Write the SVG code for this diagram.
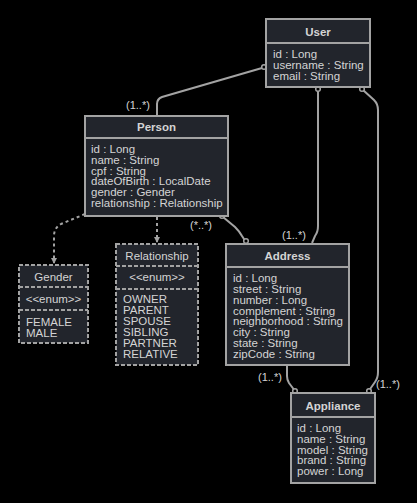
<svg xmlns="http://www.w3.org/2000/svg" width="417" height="503" viewBox="0 0 417 503">
<style>
.bg{fill:#000}
.box{fill:#22252c;stroke:#a3a3a3;stroke-width:2}
.ebox{fill:#22252c;stroke:#a3a3a3;stroke-width:2;stroke-dasharray:4 2}
.div{stroke:#a3a3a3;stroke-width:2}
.ediv{stroke:#a3a3a3;stroke-width:2;stroke-dasharray:4 2}
text{font-family:"Liberation Sans",Arial,sans-serif;font-size:11.5px;fill:#d4d4d4}
.h{font-weight:bold;text-anchor:middle}
.c{text-anchor:middle}
.lbl{font-size:11px}
.ln{fill:none;stroke:#a3a3a3;stroke-width:2}
.dl{fill:none;stroke:#a3a3a3;stroke-width:2;stroke-dasharray:3 3}
.end{fill:#000;stroke:#a3a3a3;stroke-width:1.5}
</style>
<defs>
<marker id="arr" markerWidth="6" markerHeight="6" refX="5" refY="3" orient="auto" markerUnits="userSpaceOnUse">
<path d="M0,0 L6,3 L0,6 z" fill="#a3a3a3"/>
</marker>
</defs>
<rect class="bg" x="0" y="0" width="417" height="503"/>

<g id="connectors">
<path class="ln" d="M157,116 L157,104 Q157,99 162,97 L262,68"/>
<circle class="end" cx="264" cy="67" r="2.3"/>
<text class="lbl" x="126" y="109">(1..*)</text>

<path class="ln" d="M318,90 L318,226 Q318,232 315,236 L312,243"/>
<circle class="end" cx="318" cy="89" r="2.3"/>
<text class="lbl" x="282" y="239">(1..*)</text>

<path class="ln" d="M363,90 L374,100 Q378,104 378,110 L378,372 Q378,378 375,382 L368,392"/>
<circle class="end" cx="362" cy="89" r="2.3"/>
<circle class="end" cx="369" cy="391" r="2.3"/>
<text class="lbl" x="376" y="388">(1..*)</text>

<path class="ln" d="M223,217 L235,227 Q240,232 242,236 L246,242"/>
<circle class="end" cx="222" cy="216" r="2.3"/>
<circle class="end" cx="246" cy="241" r="2.3"/>
<text class="lbl" x="190" y="229">(*..*)</text>

<path class="ln" d="M287,366 L287,376 Q287,380 289,383 L295,391"/>
<circle class="end" cx="295" cy="391" r="2.3"/>
<text class="lbl" x="258" y="381">(1..*)</text>

<path class="dl" d="M85,214 L61,224 Q54,228 54,236 L54,263" marker-end="url(#arr)"/>
<path class="dl" d="M157,217 L157,242" marker-end="url(#arr)"/>
</g>

<g id="User">
<rect class="box" x="266" y="19" width="104" height="68"/>
<line class="div" x1="266" y1="43" x2="370" y2="43"/>
<text class="h" x="318" y="36">User</text>
<text x="273" y="58">id : Long</text>
<text x="273" y="69">username : String</text>
<text x="273" y="80">email : String</text>
</g>

<g id="Person">
<rect class="box" x="85" y="116" width="143" height="100"/>
<line class="div" x1="85" y1="138" x2="228" y2="138"/>
<text class="h" x="156.5" y="131">Person</text>
<text x="91" y="153">id : Long</text>
<text x="91" y="163.8">name : String</text>
<text x="91" y="174.6">cpf : String</text>
<text x="91" y="185.4">dateOfBirth : LocalDate</text>
<text x="91" y="196.2">gender : Gender</text>
<text x="91" y="207">relationship : Relationship</text>
</g>

<g id="Gender">
<rect class="ebox" x="19" y="265" width="69" height="78"/>
<line class="ediv" x1="19" y1="287" x2="88" y2="287"/>
<line class="ediv" x1="19" y1="310" x2="88" y2="310"/>
<text class="c" x="53.5" y="281">Gender</text>
<text class="c" x="53.5" y="303">&lt;&lt;enum&gt;&gt;</text>
<text x="26" y="326">FEMALE</text>
<text x="26" y="336.8">MALE</text>
</g>

<g id="Relationship">
<rect class="ebox" x="116" y="244" width="82" height="121"/>
<line class="ediv" x1="116" y1="266" x2="198" y2="266"/>
<line class="ediv" x1="116" y1="289" x2="198" y2="289"/>
<text class="c" x="157" y="260">Relationship</text>
<text class="c" x="157" y="281">&lt;&lt;enum&gt;&gt;</text>
<text x="123" y="303.3">OWNER</text>
<text x="123" y="314.3">PARENT</text>
<text x="123" y="325.3">SPOUSE</text>
<text x="123" y="336.3">SIBLING</text>
<text x="123" y="347.3">PARTNER</text>
<text x="123" y="358.3">RELATIVE</text>
</g>

<g id="Address">
<rect class="box" x="226" y="244" width="123" height="121"/>
<line class="div" x1="226" y1="267" x2="349" y2="267"/>
<text class="h" x="287.5" y="259.5">Address</text>
<text x="233" y="282">id : Long</text>
<text x="233" y="292.9">street : String</text>
<text x="233" y="303.7">number : Long</text>
<text x="233" y="314.6">complement : String</text>
<text x="233" y="325.4">neighborhood : String</text>
<text x="233" y="336.3">city : String</text>
<text x="233" y="347.1">state : String</text>
<text x="233" y="358">zipCode : String</text>
</g>

<g id="Appliance">
<rect class="box" x="291" y="393" width="84" height="90"/>
<line class="div" x1="291" y1="417" x2="375" y2="417"/>
<text class="h" x="333" y="409.5">Appliance</text>
<text x="297" y="432">id : Long</text>
<text x="297" y="442.8">name : String</text>
<text x="297" y="453.6">model : String</text>
<text x="297" y="464.4">brand : String</text>
<text x="297" y="475.2">power : Long</text>
</g>
</svg>
